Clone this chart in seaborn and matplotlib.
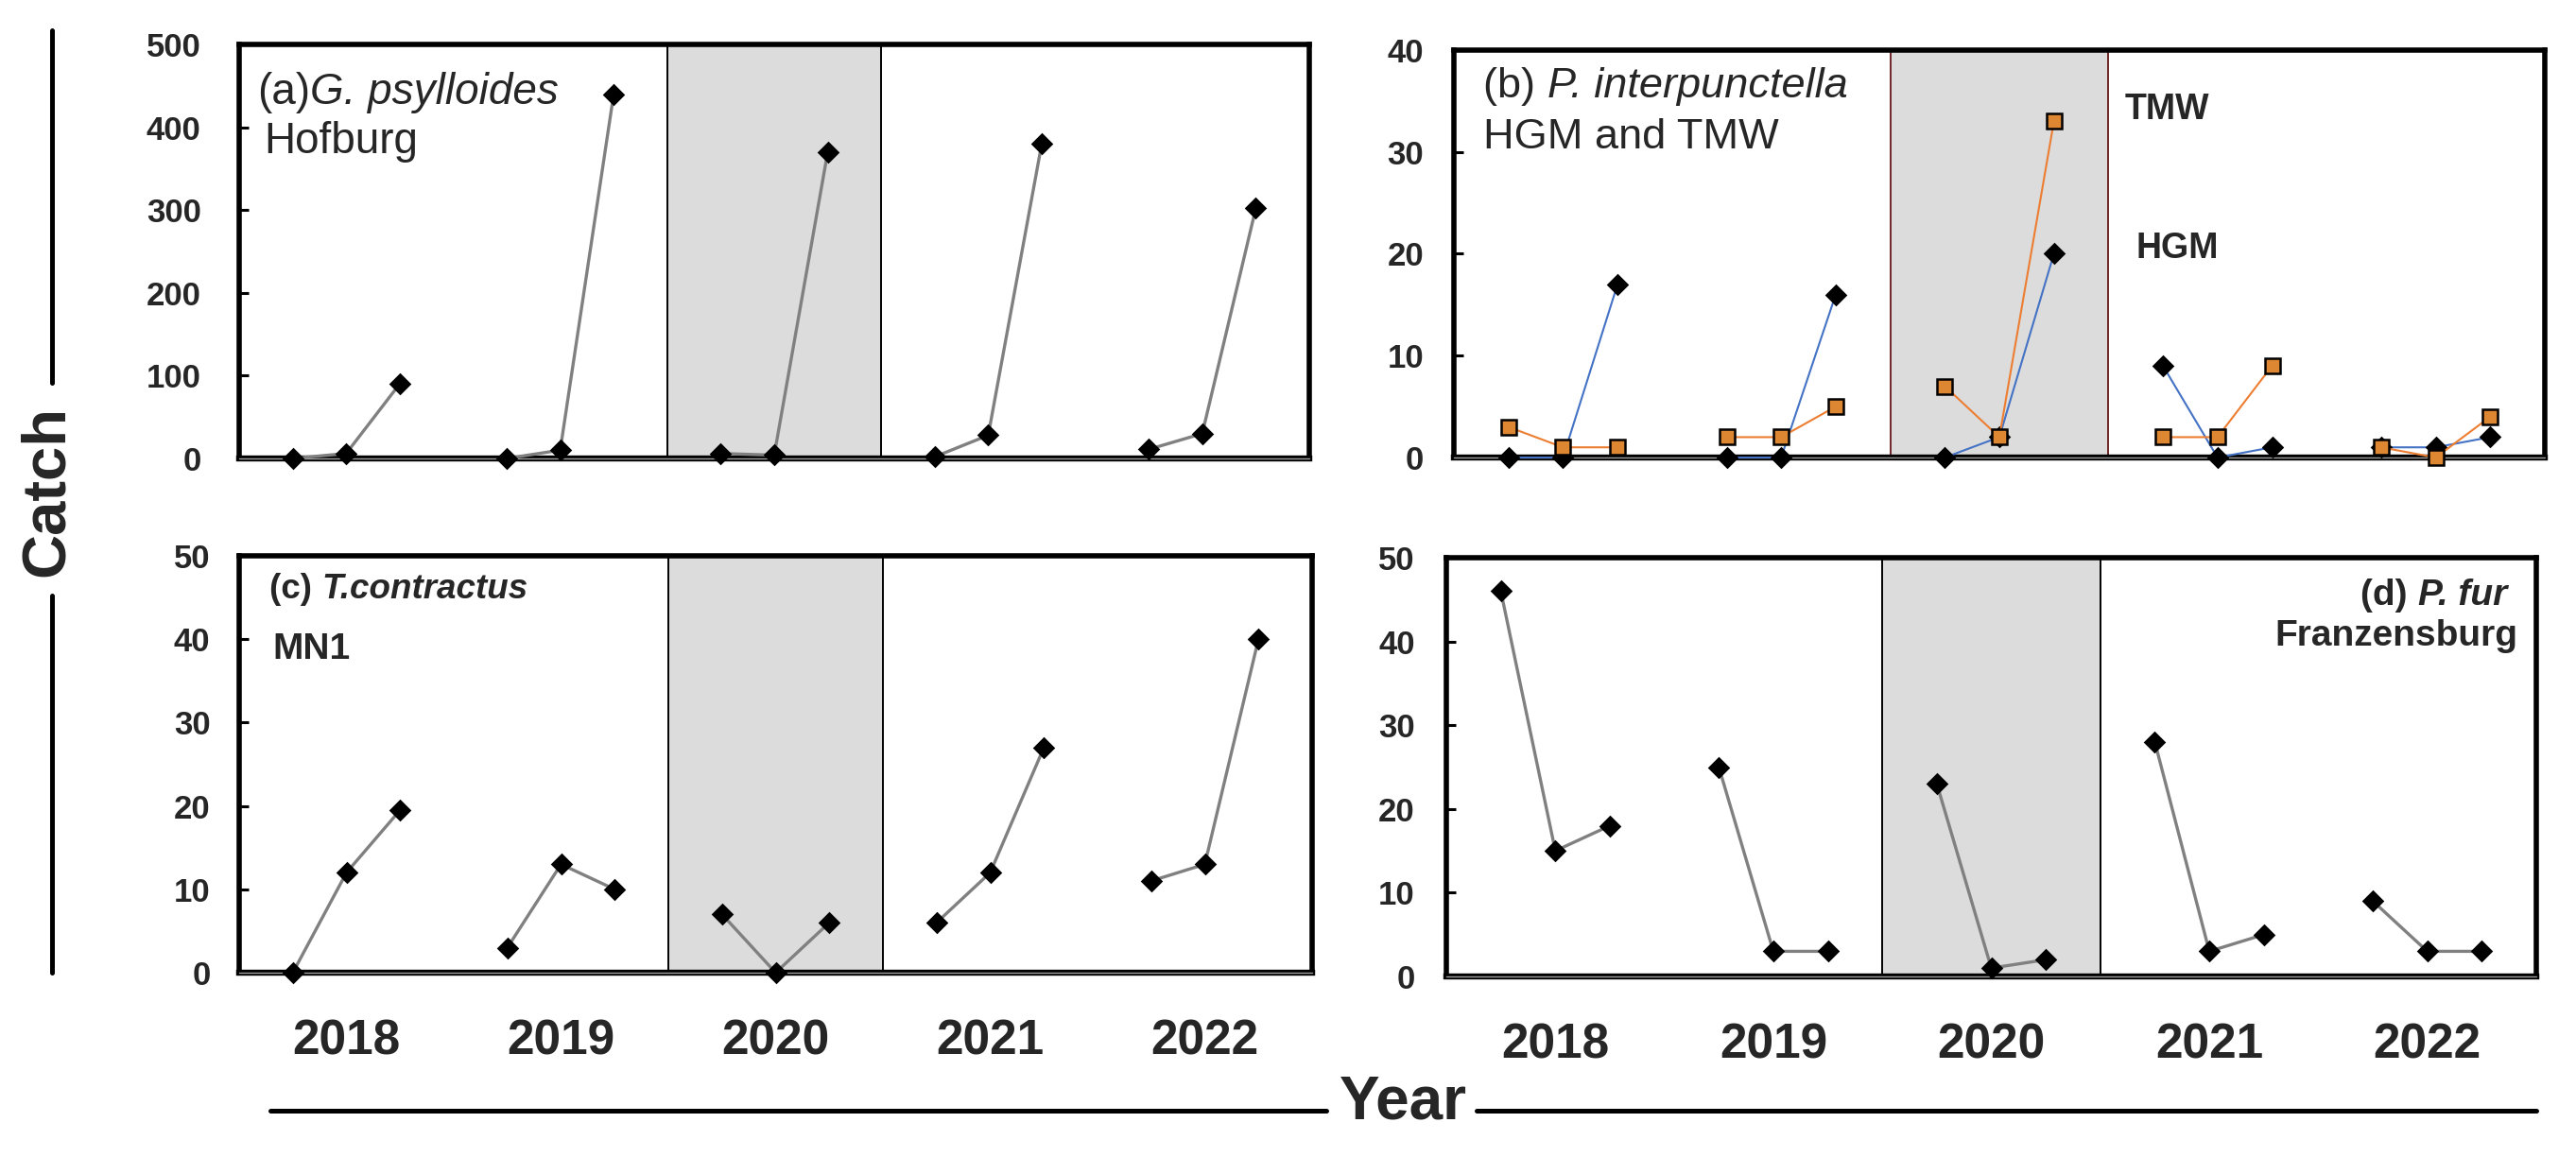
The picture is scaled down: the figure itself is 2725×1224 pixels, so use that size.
import numpy as np
import pandas as pd
import matplotlib.pyplot as plt
import seaborn as sns
from matplotlib.lines import Line2D

sns.set_style('white')
plt.rcParams['font.family'] = ['Liberation Sans', 'DejaVu Sans']

# ------ DATA (three samplings per year) ------
years = ['2018', '2019', '2020', '2021', '2022']
covid_year = '2020'

gp_hofburg = [0, 6, 90, 0, 10, 440, 6, 4, 370, 2, 28, 380, 11, 30, 302]
pi_hgm = [0, 0, 17, 0, 0, 16, 0, 2, 20, 9, 0, 1, 1, 1, 2]
pi_tmw = [3, 1, 1, 2, 2, 5, 7, 2, 33, 2, 2, 9, 1, 0, 4]
tc_mn1 = [0, 12, 19.5, 3, 13, 10, 7, 0, 6, 6, 12, 27, 11, 13, 40]
pf_franzensburg = [46, 15, 18, 25, 3, 3, 23, 1, 2, 28, 3, 5, 9, 3, 3]

ylims = {'a': 500, 'b': 40, 'c': 50, 'd': 50}
ysteps = {'a': 100, 'b': 10, 'c': 10, 'd': 10}


def to_frame(values):
    # each year is a block of 4 x-units, samples sit at 1, 2, 3 inside it
    rows = []
    for i, yr in enumerate(years):
        for k in range(3):
            rows.append({'year': yr, 'pos': 4 * i + k + 1, 'value': values[3 * i + k]})
    return pd.DataFrame(rows)


def draw_series(ax, values, line_color, marker, face, ms, lw):
    df = to_frame(values)
    sns.lineplot(data=df, x='pos', y='value', units='year', estimator=None,
                 color=line_color, lw=lw, marker=marker, markersize=ms,
                 markerfacecolor=face, markeredgecolor='black', markeredgewidth=1.8,
                 clip_on=False, zorder=4, legend=False, ax=ax)


fig = plt.figure(figsize=(27.25, 12.24), dpi=100)
W, H = 2725, 1224


def add_axes(left, top, right, bottom):
    return fig.add_axes([left / W, 1 - bottom / H, (right - left) / W, (bottom - top) / H])


axes = {
    'a': add_axes(253, 47, 1385, 485),
    'b': add_axes(1538, 53, 2692, 484),
    'c': add_axes(253, 588, 1388, 1029),
    'd': add_axes(1530, 590, 2683, 1033),
}
ypads = {'a': 29, 'b': 23, 'c': 22, 'd': 24}

gray = '#808080'
draw_series(axes['a'], gp_hofburg, gray, 'D', 'black', 10, 2.4)
draw_series(axes['b'], pi_hgm, '#4472C4', 'D', 'black', 10, 1.5)
draw_series(axes['b'], pi_tmw, '#ED7D31', 's', '#DE8732', 12, 1.5)
draw_series(axes['c'], tc_mn1, gray, 'D', 'black', 10, 2.4)
draw_series(axes['d'], pf_franzensburg, gray, 'D', 'black', 10, 2.4)

ci = years.index(covid_year)
for key, ax in axes.items():
    ax.axvspan(4 * ci, 4 * ci + 4, color='#DCDCDC', zorder=0, lw=0)
    vcol = '#6E2626' if key == 'b' else 'black'
    for xv in (4 * ci, 4 * ci + 4):
        ax.axvline(xv, color=vcol, lw=1.4, zorder=1)
    # double-looking zero line of the original
    ax.axhline(0, color='#A0A0A0', lw=1.0, zorder=3, clip_on=False)
    ax.set_xlim(0, 4 * len(years))
    ax.set_ylim(0, ylims[key])
    ticks = np.arange(0, ylims[key] + 1, ysteps[key])
    ax.set_yticks(ticks, [str(t) for t in ticks], fontsize=25, fontweight='bold')
    ax.tick_params(axis='y', direction='in', length=7, width=2.2, color='black',
                   pad=ypads[key], left=True)
    ax.set_xlabel('')
    ax.set_ylabel('')
    for sp in ax.spines.values():
        sp.set_color('black')
        sp.set_linewidth(4.0)
    ax.spines['bottom'].set_linewidth(4.6)
    if key in ('c', 'd'):
        ax.set_xticks([4 * i + 2 for i in range(len(years))], years,
                      fontsize=37, fontweight='bold')
        ax.tick_params(axis='x', length=0, pad=35)
    else:
        ax.set_xticks([])

# ------ PANEL LABELS ------
ax = axes['a']
t = ax.text(0.017, 0.856, '(a)', transform=ax.transAxes, fontsize=33, va='baseline')
ax.annotate('G. psylloides', xy=(1, 0), xycoords=t, fontsize=33, style='italic', va='bottom')
ax.text(0.023, 0.737, 'Hofburg', transform=ax.transAxes, fontsize=33, va='baseline')

ax = axes['b']
t = ax.text(0.027, 0.884, '(b) ', transform=ax.transAxes, fontsize=32.5, va='baseline')
ax.annotate('P. interpunctella', xy=(1, 0), xycoords=t, fontsize=32.5, style='italic', va='bottom')
ax.text(0.027, 0.759, 'HGM and TMW', transform=ax.transAxes, fontsize=32.5, va='baseline')
ax.text(12.3, 33.2, 'TMW', fontsize=27, fontweight='bold', va='baseline')
ax.text(12.5, 19.6, 'HGM', fontsize=27, fontweight='bold', va='baseline')

ax = axes['c']
t = ax.text(0.028, 0.898, '(c) ', transform=ax.transAxes, fontsize=26.5, fontweight='bold', va='baseline')
ax.annotate('T.contractus', xy=(1, 0), xycoords=t, fontsize=26.5, fontweight='bold',
            style='italic', va='bottom')
ax.text(0.031, 0.753, 'MN1', transform=ax.transAxes, fontsize=28, fontweight='bold', va='baseline')

ax = axes['d']
t = ax.text(0.973, 0.887, 'P. fur', transform=ax.transAxes, fontsize=28, fontweight='bold',
            style='italic', ha='right', va='baseline')
ax.annotate('(d) ', xy=(0, 0), xycoords=t, fontsize=28, fontweight='bold', ha='right', va='bottom')
ax.text(0.983, 0.790, 'Franzensburg', transform=ax.transAxes, fontsize=28, fontweight='bold',
        ha='right', va='baseline')

# ------ SHARED AXIS TITLES ------
fig.text(50 / W, 1 - 519 / H, 'Catch', rotation=90, fontsize=47, fontweight='bold',
         ha='center', va='center')
for y0, y1 in ((32, 405), (630, 1029)):
    fig.add_artist(Line2D([55 / W, 55 / W], [1 - y0 / H, 1 - y1 / H], color='black', lw=3.6))

fig.text(1484 / W, 1 - 1166 / H, 'Year', fontsize=46, fontweight='bold', ha='center', va='center')
for x0, x1 in ((286, 1403), (1562, 2683)):
    fig.add_artist(Line2D([x0 / W, x1 / W], [1 - 1175 / H, 1 - 1175 / H], color='black', lw=3.6))

fig.savefig('out.png', dpi=100, facecolor='white')
